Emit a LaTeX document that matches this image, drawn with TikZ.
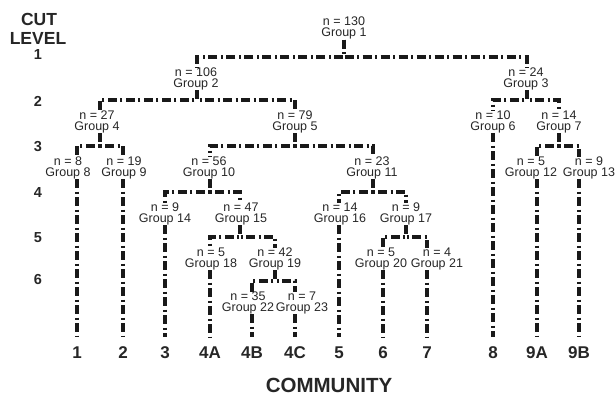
\documentclass[tikz,border=0pt]{standalone}
\usepackage{fontspec}
\setmainfont{Liberation Sans}
\usetikzlibrary{calc}
\newcommand\linkgroups[4]{\draw[conn] ($(#1.south)+(#2,0)$) |- ($(#3.north)+(#4,-10.5)$) -- ($(#3.north)+(#4,0)$);}
\newcommand\leafline[3]{\draw[conn] ($(#1.south)+(#2,0)$) -- ($(#3.north)+(0,-10)$);}
\begin{document}
\begin{tikzpicture}[x=1pt,y=-1pt,
  conn/.style={line width=3.1pt, dash pattern=on 9pt off 3.5pt on 2pt off 3.5pt, draw=black!90},
  grp/.style={font=\fontsize{12.5}{11}\selectfont, align=center, inner sep=0pt, anchor=north, text=black!85},
  comm/.style={font=\fontsize{17}{17}\selectfont\bfseries, inner sep=0pt, text=black!85},
  cutnum/.style={font=\fontsize{14.5}{14.5}\selectfont\bfseries, inner sep=0pt, text=black!85},
  head/.style={font=\fontsize{17.5}{17.5}\selectfont\bfseries, inner sep=0pt, text=black!85},
]
\useasboundingbox (0,0) rectangle (616,396);

% cut level column
\node[head] (cut) at (39,19) {CUT};
\node[head] (lev) at (38,38) {LEVEL};
\node[cutnum] (l1) at (38,55) {1};
\node[cutnum] (l2) at (38,101) {2};
\node[cutnum] (l3) at (38,147) {3};
\node[cutnum] (l4) at (38,193) {4};
\node[cutnum] (l5) at (38,238) {5};
\node[cutnum] (l6) at (38,280) {6};

% groups
\node[grp] (g1) at (344,17) {n = 130\\Group 1};
\node[grp] (g2) at (196,67.5) {n = 106\\Group 2};
\node[grp] (g3) at (526,67.5) {n = 24\\Group 3};
\node[grp] (g4) at (97,110.5) {n = 27\\Group 4};
\node[grp] (g5) at (295,110.5) {n = 79\\Group 5};
\node[grp] (g6) at (493,110.5) {n = 10\\Group 6};
\node[grp] (g7) at (559,110.5) {n = 14\\Group 7};
\node[grp] (g8) at (68,156.5) {n = 8\\Group 8};
\node[grp] (g9) at (124,156.5) {n = 19\\Group 9};
\node[grp] (g10) at (209,156.5) {n = 56\\Group 10};
\node[grp] (g11) at (372,156.5) {n = 23\\Group 11};
\node[grp] (g12) at (531,156.5) {n = 5\\Group 12};
\node[grp] (g13) at (589,156.5) {n = 9\\Group 13};
\node[grp] (g14) at (165,202.5) {n = 9\\Group 14};
\node[grp] (g15) at (241,202.5) {n = 47\\Group 15};
\node[grp] (g16) at (340,202.5) {n = 14\\Group 16};
\node[grp] (g17) at (406,202.5) {n = 9\\Group 17};
\node[grp] (g18) at (211,247.5) {n = 5\\Group 18};
\node[grp] (g19) at (275,247.5) {n = 42\\Group 19};
\node[grp] (g20) at (381,247.5) {n = 5\\Group 20};
\node[grp] (g21) at (437,247.5) {n = 4\\Group 21};
\node[grp] (g22) at (248,291.5) {n = 35\\Group 22};
\node[grp] (g23) at (302,291.5) {n = 7\\Group 23};

% communities
\node[comm] (c1) at (77,353) {1};
\node[comm] (c2) at (123,353) {2};
\node[comm] (c3) at (165,353) {3};
\node[comm] (c4a) at (210,353) {4A};
\node[comm] (c4b) at (252,353) {4B};
\node[comm] (c4c) at (295,353) {4C};
\node[comm] (c5) at (339,353) {5};
\node[comm] (c6) at (383,353) {6};
\node[comm] (c7) at (427,353) {7};
\node[comm] (c8) at (493,353) {8};
\node[comm] (c9a) at (537,353) {9A};
\node[comm] (c9b) at (579,353) {9B};
\node[font=\fontsize{20.5}{20.5}\selectfont\bfseries, inner sep=0pt, text=black!85] (community) at (329,385) {COMMUNITY};

% branches
\linkgroups{g1}{0}{g2}{1}
\linkgroups{g1}{0}{g3}{1}
\linkgroups{g2}{1}{g4}{3}
\linkgroups{g2}{1}{g5}{0}
\linkgroups{g3}{1}{g6}{0}
\linkgroups{g3}{1}{g7}{0}
\linkgroups{g4}{3}{g8}{9}
\linkgroups{g4}{3}{g9}{-1}
\linkgroups{g5}{0}{g10}{1}
\linkgroups{g5}{0}{g11}{1}
\linkgroups{g7}{0}{g12}{6}
\linkgroups{g7}{0}{g13}{-10}
\linkgroups{g10}{1}{g14}{0}
\linkgroups{g10}{1}{g15}{-1}
\linkgroups{g11}{1}{g16}{-1}
\linkgroups{g11}{1}{g17}{0}
\linkgroups{g15}{-1}{g18}{-1}
\linkgroups{g15}{-1}{g19}{0}
\linkgroups{g17}{0}{g20}{2}
\linkgroups{g17}{0}{g21}{-10}
\linkgroups{g19}{0}{g22}{4}
\linkgroups{g19}{0}{g23}{-7}

% leaves
\leafline{g8}{9}{c1}
\leafline{g9}{-1}{c2}
\leafline{g14}{0}{c3}
\leafline{g18}{-1}{c4a}
\leafline{g22}{4}{c4b}
\leafline{g23}{-7}{c4c}
\leafline{g16}{-1}{c5}
\leafline{g20}{2}{c6}
\leafline{g21}{-10}{c7}
\leafline{g6}{0}{c8}
\leafline{g12}{6}{c9a}
\leafline{g13}{-10}{c9b}
\end{tikzpicture}
\end{document}
